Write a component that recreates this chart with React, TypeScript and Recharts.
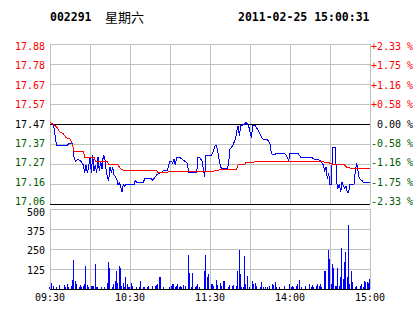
import {
  ComposedChart,
  BarChart,
  Bar,
  Line,
  XAxis,
  YAxis,
  CartesianGrid,
  ReferenceLine,
} from "recharts";

// minute index: 0 = 09:30, 120 = 11:30, 240 = 15:00
const priceTimes = [
  0, 2, 3, 4, 5, 10, 13, 14, 17, 18, 19, 21, 23, 24, 25, 26, 27, 28, 29, 30,
  31, 32, 33, 34, 35, 36, 37, 38, 39, 40, 41, 42, 43, 44, 45, 46, 47, 48, 49, 50,
  51, 52, 53, 54, 55, 56, 57, 63, 64, 65, 70, 71, 76, 77, 78, 79, 80, 83, 85, 88,
  89, 90, 91, 92, 93, 94, 95, 97, 99, 101, 103, 104, 110, 111, 112, 114, 115, 116, 117, 120,
  121, 122, 124, 125, 126, 127, 128, 129, 133, 134, 135, 137, 139, 140, 141, 142, 143, 146, 147, 149,
  150, 151, 152, 154, 156, 158, 160, 163, 165, 166, 168, 170, 176, 178, 179, 180, 186, 188, 196, 198,
  201, 203, 205, 206, 207, 208, 209, 210, 211, 212, 214, 215, 216, 217, 218, 219, 221, 222, 223, 224,
  225, 228, 229, 230, 231, 232, 234, 235, 238, 240,
];
const prices = [
  17.48, 17.47, 17.45, 17.4, 17.36, 17.36, 17.36, 17.37, 17.37, 17.3, 17.28, 17.29, 17.28, 17.27, 17.26, 17.22, 17.26, 17.22, 17.25, 17.3,
  17.22, 17.31, 17.23, 17.26, 17.22, 17.3, 17.23, 17.28, 17.24, 17.31, 17.3, 17.24, 17.2, 17.18, 17.25, 17.22, 17.25, 17.21, 17.2, 17.19,
  17.16, 17.17, 17.15, 17.12, 17.16, 17.15, 17.16, 17.16, 17.18, 17.17, 17.17, 17.19, 17.19, 17.18, 17.19, 17.2, 17.21, 17.22, 17.23, 17.23,
  17.26, 17.28, 17.28, 17.27, 17.29, 17.26, 17.3, 17.3, 17.29, 17.28, 17.27, 17.22, 17.22, 17.3, 17.3, 17.28, 17.24, 17.2, 17.31, 17.31,
  17.31, 17.32, 17.36, 17.36, 17.32, 17.28, 17.25, 17.24, 17.24, 17.27, 17.34, 17.36, 17.39, 17.43, 17.46, 17.41, 17.46, 17.47, 17.48, 17.46,
  17.43, 17.4, 17.46, 17.46, 17.44, 17.41, 17.39, 17.39, 17.37, 17.32, 17.31, 17.32, 17.32, 17.3, 17.28, 17.32, 17.32, 17.3, 17.3, 17.29,
  17.29, 17.28, 17.26, 17.23, 17.25, 17.19, 17.22, 17.16, 17.16, 17.35, 17.35, 17.17, 17.14, 17.16, 17.12, 17.17, 17.14, 17.15, 17.12, 17.12,
  17.16, 17.16, 17.23, 17.27, 17.23, 17.19, 17.18, 17.17, 17.17, 17.17,
];

const avgTimes = [
  0, 2, 5, 7, 10, 12, 15, 17, 18, 25, 26, 33, 34, 43, 44, 51, 53, 56, 80, 81,
  88, 89, 120, 126, 127, 140, 141, 146, 147, 153, 154, 201, 204, 209, 213, 221, 223, 240,
];
const avgPrices = [
  17.48, 17.47, 17.455, 17.43, 17.42, 17.4, 17.395, 17.36, 17.33, 17.33, 17.3, 17.3, 17.28, 17.28, 17.26, 17.26, 17.24, 17.23, 17.23, 17.222,
  17.222, 17.225, 17.228, 17.23, 17.236, 17.236, 17.26, 17.26, 17.275, 17.275, 17.28, 17.28, 17.277, 17.272, 17.26, 17.26, 17.245, 17.24,
];

const volTimes = [
  0, 1, 3, 5, 7, 11, 12, 13, 14, 16, 17, 18, 19, 20, 22, 23, 24, 25, 26, 27,
  28, 29, 31, 32, 33, 34, 35, 36, 39, 41, 43, 44, 45, 47, 48, 49, 50, 51, 52, 53,
  54, 55, 56, 57, 58, 59, 60, 61, 62, 65, 67, 68, 70, 71, 73, 74, 77, 79, 80, 81,
  82, 83, 85, 90, 91, 92, 93, 94, 95, 96, 97, 98, 99, 100, 102, 104, 105, 106, 107, 109,
  110, 111, 112, 116, 117, 118, 119, 121, 122, 123, 125, 126, 128, 129, 130, 131, 134, 135, 137, 138,
  140, 141, 142, 143, 144, 145, 146, 147, 148, 150, 152, 153, 154, 155, 158, 159, 160, 162, 163, 165,
  167, 168, 169, 170, 172, 176, 180, 181, 182, 183, 185, 186, 187, 189, 192, 195, 196, 197, 198, 200,
  201, 202, 203, 204, 206, 207, 209, 210, 211, 212, 213, 214, 215, 216, 217, 218, 219, 220, 221, 222,
  223, 224, 225, 226, 227, 229, 230, 233, 234, 235, 236, 237, 238, 239, 240,
];
const volumes = [
  15, 38, 21, 13, 25, 25, 13, 34, 15, 17, 59, 180, 51, 34, 15, 25, 15, 21, 34, 141,
  25, 15, 21, 17, 17, 154, 15, 15, 15, 15, 40, 167, 129, 15, 32, 51, 110, 40, 141, 129,
  21, 38, 15, 72, 34, 15, 15, 38, 21, 15, 15, 51, 15, 15, 15, 21, 21, 21, 27, 34,
  78, 72, 15, 15, 21, 34, 30, 15, 21, 34, 15, 21, 15, 25, 21, 211, 103, 15, 103, 15,
  21, 34, 15, 110, 211, 72, 91, 30, 34, 21, 59, 25, 40, 21, 53, 53, 15, 25, 21, 25,
  21, 110, 243, 91, 15, 15, 205, 34, 84, 15, 53, 30, 40, 21, 15, 46, 15, 15, 15, 21,
  34, 25, 46, 15, 15, 21, 34, 15, 21, 15, 21, 34, 59, 15, 21, 34, 15, 25, 15, 21,
  30, 21, 34, 15, 110, 110, 243, 186, 34, 154, 129, 21, 21, 129, 21, 78, 255, 65, 167, 230,
  78, 401, 34, 110, 46, 15, 21, 21, 34, 15, 53, 46, 46, 40, 65,
];

const priceTicks = [17.06, 17.1625, 17.265, 17.3675, 17.47, 17.5725, 17.675, 17.7775, 17.88];
const priceLabels = ["17.06", "17.16", "17.27", "17.37", "17.47", "17.57", "17.67", "17.78", "17.88"];
const pctLabels = ["-2.33 %", "-1.75 %", "-1.16 %", "-0.58 %", " 0.00 %", "+0.58 %", "+1.16 %", "+1.75 %", "+2.33 %"];
const volTicks = [0, 125, 250, 375, 500];
const volLabels = ["", "125", "250", "375", "500"];
const timeTicks = [0, 60, 120, 180, 240];
const timeLabels = ["09:30", "10:30", "11:30", "14:00", "15:00"];
const gridTimes = [0, 30, 60, 90, 120, 150, 180, 210, 240];

const prevClose = 17.47;
const GREEN = "#005a00";
const GRID = "#c0c0c0";
const MONO = "'DejaVu Sans Mono', monospace";

const labelColor = (v: number) => (v > prevClose + 0.001 ? "#ff0000" : v < prevClose - 0.001 ? GREEN : "#000");

const priceRows = Array.from(new Set([...priceTimes, ...avgTimes]))
  .sort((a, b) => a - b)
  .map((m) => {
    const pi = priceTimes.indexOf(m);
    const ai = avgTimes.indexOf(m);
    return { m, price: pi >= 0 ? prices[pi] : null, avg: ai >= 0 ? avgPrices[ai] : null };
  });

const volRows = volTimes.map((m, i) => ({ m, vol: volumes[i] }));

// labels sit a little tighter than the gridlines: bottom ones ride above, top ones below
const priceDy = (i: number) => 1 + i * 0.625;

const LeftTick = ({ x, y, payload }: any) => {
  const i = priceTicks.indexOf(payload?.value);
  return (
    <text x={x} y={y} dy={priceDy(i)} textAnchor="end" fill={labelColor(payload?.value)} style={{ fontFamily: MONO, fontSize: 10 }}>
      {priceLabels[i]}
    </text>
  );
};

const RightTick = ({ x, y, payload }: any) => {
  const i = priceTicks.indexOf(payload?.value);
  return (
    <text x={x} y={y} dy={priceDy(i)} textAnchor="start" fill={labelColor(payload?.value)} style={{ fontFamily: MONO, fontSize: 10, whiteSpace: "pre" }}>
      {pctLabels[i]}
    </text>
  );
};

const VolTick = ({ x, y, payload }: any) => {
  const i = volTicks.indexOf(payload?.value);
  return (
    <text x={x} y={y} dy={3.6 + i * 0.9} textAnchor="end" fill="#000" style={{ fontFamily: MONO, fontSize: 10 }}>
      {volLabels[i]}
    </text>
  );
};

const TimeTick = ({ x, y, payload }: any) => (
  <text x={x} y={y} dy={10} textAnchor="middle" fill="#000" style={{ fontFamily: MONO, fontSize: 10 }}>
    {timeLabels[timeTicks.indexOf(payload?.value)]}
  </text>
);

export default function App() {
  return (
    <div style={{ position: "absolute", left: 0, top: 0, width: 414, height: 314, background: "#fff", overflow: "hidden" }}>
      <div style={{ position: "absolute", left: 50, top: 9, fontFamily: MONO, fontWeight: 700, fontSize: 11.5, lineHeight: "16px" }}>002291</div>
      <div style={{ position: "absolute", left: 105, top: 8, fontFamily: "'Noto Sans CJK SC', sans-serif", fontSize: 13, lineHeight: "18px" }}>星期六</div>
      <div style={{ position: "absolute", left: 238, top: 9, fontFamily: MONO, fontWeight: 700, fontSize: 11.5, lineHeight: "16px" }}>2011-02-25 15:00:31</div>

      <div style={{ position: "absolute", left: 0, top: 0 }}>
        <ComposedChart width={414} height={214} data={priceRows} margin={{ top: 44, right: 1, bottom: 10, left: 0 }}>
          <XAxis dataKey="m" type="number" domain={[0, 240]} hide />
          <YAxis yAxisId="left" domain={[17.06, 17.88]} ticks={priceTicks} interval={0} width={50} axisLine={false} tickLine={false} tickSize={0} tickMargin={5} tick={<LeftTick />} allowDataOverflow />
          <YAxis yAxisId="right" orientation="right" domain={[17.06, 17.88]} ticks={priceTicks} interval={0} width={43} axisLine={false} tickLine={false} tickSize={0} tickMargin={1} tick={<RightTick />} allowDataOverflow />
          <CartesianGrid yAxisId="left" vertical={false} stroke={GRID} shapeRendering="crispEdges" />
          {gridTimes.map((t) => (
            <ReferenceLine key={t} yAxisId="left" x={t} stroke={GRID} shapeRendering="crispEdges" />
          ))}
          <ReferenceLine yAxisId="left" y={prevClose} stroke="#000" shapeRendering="crispEdges" />
          <ReferenceLine yAxisId="left" y={17.06} stroke="#000" shapeRendering="crispEdges" />
          <Line yAxisId="left" type="linear" dataKey="price" stroke="#0000ff" strokeWidth={1} dot={false} connectNulls isAnimationActive={false} shapeRendering="crispEdges" />
          <Line yAxisId="left" type="linear" dataKey="avg" stroke="#ff0000" strokeWidth={1} dot={false} connectNulls isAnimationActive={false} shapeRendering="crispEdges" />
        </ComposedChart>
      </div>

      <div style={{ position: "absolute", left: 0, top: 204 }}>
        <BarChart width={414} height={110} data={volRows} margin={{ top: 5, right: 44, bottom: 0, left: 0 }}>
          <XAxis dataKey="m" type="number" domain={[0, 240]} ticks={timeTicks} interval={0} height={25} axisLine={{ stroke: "#000", shapeRendering: "crispEdges" }} tickLine={false} tickSize={0} tick={<TimeTick />} />
          <YAxis domain={[0, 500]} ticks={volTicks} interval={0} width={50} axisLine={false} tickLine={false} tickSize={0} tickMargin={5} tick={<VolTick />} />
          <CartesianGrid vertical={false} stroke={GRID} shapeRendering="crispEdges" />
          {gridTimes.map((t) => (
            <ReferenceLine key={t} x={t} stroke={GRID} shapeRendering="crispEdges" />
          ))}
          <Bar dataKey="vol" fill="#0000ff" barSize={1} isAnimationActive={false} shapeRendering="crispEdges" />
        </BarChart>
      </div>
    </div>
  );
}
